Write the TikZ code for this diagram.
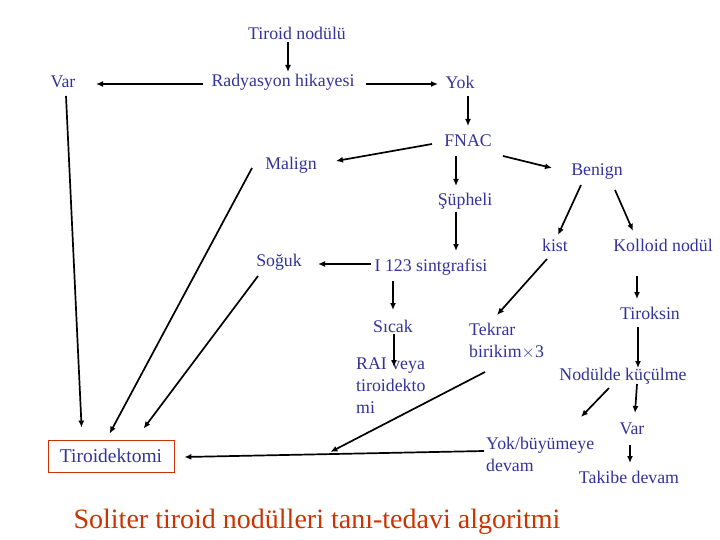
\documentclass[tikz,border=0pt]{standalone}
\usepackage{fontspec}
\setmainfont{Liberation Serif}
\usetikzlibrary{arrows.meta}
\definecolor{lblue}{RGB}{51,51,153}
\definecolor{tred}{RGB}{204,51,0}
\tikzset{
  lbl/.style={text=lblue, inner sep=0pt, font=\fontsize{17.8}{22}\selectfont},
  mlbl/.style={lbl, align=left, anchor=west},
  arr/.style={line width=1.7pt, -{Latex[length=7pt,width=6pt]}},
  boxnode/.style={draw=tred, line width=0.8pt, text=lblue, minimum width=126pt, minimum height=32pt, inner sep=0pt, font=\fontsize{19.5}{22}\selectfont},
}
\newcommand{\sh}[3]{([shift={(#1,#2)}]#3)}
\begin{document}
\begin{tikzpicture}[x=1pt,y=-1pt]
\useasboundingbox (0,0) rectangle (720,540);
\fill[white] (0,0) rectangle (720,540);
% nodes
\node[lbl] (tn) at (297,33) {Tiroid nodülü};
\node[lbl] (var1) at (63,82) {Var};
\node[lbl] (rad) at (283,82) {Radyasyon hikayesi};
\node[lbl] (yok1) at (460,82) {Yok};
\node[lbl] (fnac) at (468,141) {FNAC};
\node[lbl] (malign) at (291,165) {Malign};
\node[lbl] (benign) at (597,172) {Benign};
\node[lbl] (sup) at (465,201) {Şüpheli};
\node[lbl] (soguk) at (279,262) {Soğuk};
\node[lbl] (i123) at (431,267) {I 123 sintgrafisi};
\node[lbl] (kist) at (555,245) {kist};
\node[lbl] (kolloid) at (663,245) {Kolloid nodül};
\node[lbl] (tiroksin) at (650,313) {Tiroksin};
\node[lbl] (sicak) at (393,326) {Sıcak};
\node[mlbl] (tekrar) at (469,341) {Tekrar\\birikim$\times$3};
\node[mlbl] (rai) at (356,386) {RAI veya\\tiroidekto\\mi};
\node[lbl] (nodul) at (623,376) {Nodülde küçülme};
\node[lbl] (var2) at (632,429) {Var};
\node[mlbl] (yokb) at (486,454) {Yok/büyümeye\\devam};
\node[lbl] (takibe) at (629,477) {Takibe devam};
\node[boxnode] (tiro) at (111,456) {Tiroidektomi};
\node[text=tred, inner sep=0pt, font=\fontsize{28}{32}\selectfont] (title) at (317,522) {Soliter tiroid nodülleri tanı-tedavi algoritmi};
% connectors
\draw[arr] \sh{-9}{9}{tn.center} -- \sh{5}{-10}{rad.center};
\draw[arr] \sh{-80}{2}{rad.center} -- \sh{33}{2}{var1.center};
\draw[arr] \sh{83}{2}{rad.center} -- \sh{-22}{2}{yok1.center};
\draw[arr] \sh{8}{14}{yok1.center} -- \sh{0}{-15}{fnac.center};
\draw[arr] \sh{-36}{3}{fnac.center} -- \sh{45}{-4}{malign.center};
\draw[arr] \sh{-12}{15}{fnac.center} -- \sh{-9}{-15}{sup.center};
\draw[arr] \sh{35}{15}{fnac.center} -- \sh{-45}{-4}{benign.center};
\draw[arr] \sh{-9}{11}{sup.center} -- \sh{25}{-16}{i123.center};
\draw[arr] \sh{-60}{-3}{i123.center} -- \sh{39}{2}{soguk.center};
\draw[arr] \sh{-16}{13}{benign.center} -- \sh{3}{-10}{kist.center};
\draw[arr] \sh{18}{18}{benign.center} -- \sh{-30}{-14}{kolloid.center};
\draw[arr] \sh{-8}{14}{kist.center} -- \sh{28}{-26}{tekrar.west};
\draw[arr] \sh{-38}{14}{i123.center} -- \sh{0}{-16}{sicak.center};
\draw[arr] \sh{-26}{31}{kolloid.center} -- \sh{-13}{-14}{tiroksin.center};
\draw[arr] \sh{1}{8}{sicak.center} -- \sh{38}{-19}{rai.west};
\draw[arr] \sh{-12}{14}{tiroksin.center} -- \sh{15}{-8}{nodul.center};
\draw[arr] \sh{-14}{12}{nodul.center} -- \sh{95}{-37}{yokb.west};
\draw[arr] \sh{14}{8}{nodul.center} -- \sh{3}{-16}{var2.center};
\draw[arr] \sh{-2}{16}{var2.center} -- \sh{1}{-14}{takibe.center};
\draw[arr] \sh{-2}{-3}{yokb.west} -- \sh{10}{1}{tiro.east};
\draw[arr] \sh{16}{31}{tekrar.west} -- \sh{156}{-4}{tiro.east};
\draw[arr] \sh{3}{14}{var1.center} -- \sh{34}{-12}{tiro.north west};
\draw[arr] \sh{-39}{3}{malign.center} -- \sh{62}{-6}{tiro.north west};
\draw[arr] \sh{-21}{14}{soguk.center} -- \sh{96}{-11}{tiro.north west};
\end{tikzpicture}
\end{document}
